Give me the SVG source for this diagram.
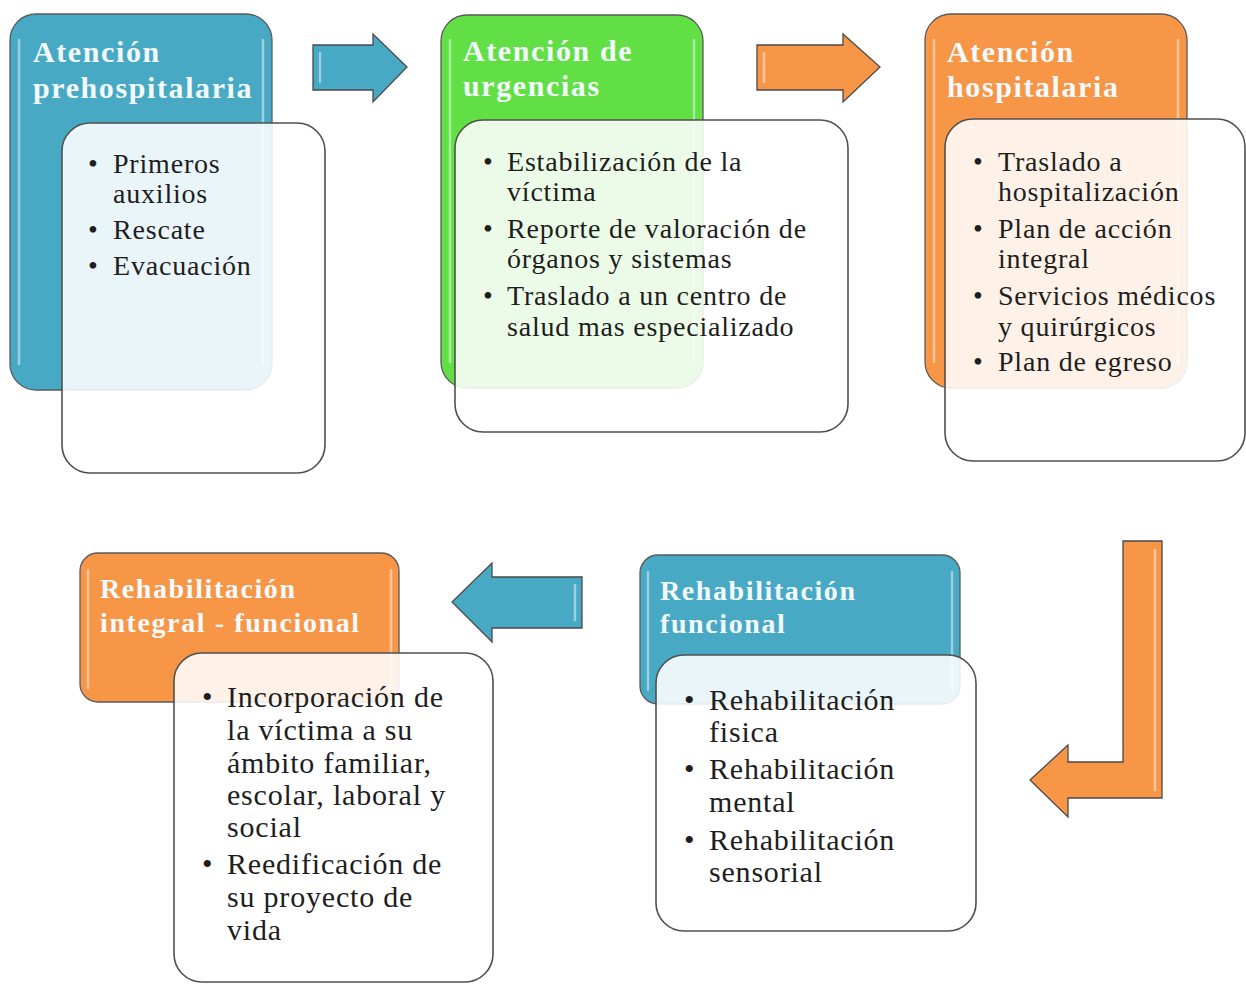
<svg xmlns="http://www.w3.org/2000/svg" width="1246" height="984" viewBox="0 0 1246 984">
<style>
.bg{fill:#ffffff}
.hdr{stroke:#5a5a5a;stroke-width:1.3}
.blue{fill:#48a9c5}
.green{fill:#62df45}
.orange{fill:#f79646}
.hl{fill:none;stroke:#ffffff;stroke-opacity:0.45;stroke-width:2.5;stroke-linecap:round}
.card{fill:#ffffff;fill-opacity:0.88;stroke:#505050;stroke-width:1.6}
.t1{font-family:"Liberation Serif","Times New Roman",serif;font-weight:bold;font-size:30px;letter-spacing:1.6px;fill:#f2fafc}
.t2{font-family:"Liberation Serif","Times New Roman",serif;font-weight:bold;font-size:28px;letter-spacing:1.6px;fill:#f2fafc}
.b1{font-family:"Liberation Serif","Times New Roman",serif;font-size:28px;letter-spacing:0.8px;fill:#1e1e1e}
.b2{font-family:"Liberation Serif","Times New Roman",serif;font-size:30px;letter-spacing:0.8px;fill:#1e1e1e}
.arr{stroke:#4a4a4a;stroke-width:1.3;stroke-linejoin:miter}
</style>
<rect class="bg" x="0" y="0" width="1246" height="984"/>

<g id="connectors">
  <polygon class="arr blue" points="313,45 373,45 373,34 407,67 373,102 373,90 313,90"/>
  <line class="hl" x1="320" y1="53" x2="320" y2="82"/>
  <polygon class="arr orange" points="757,45 843,45 843,34 880,67 843,102 843,90 757,90"/>
  <line class="hl" x1="764" y1="53" x2="764" y2="82"/>
  <polygon class="arr orange" points="1123,541 1162,541 1162,798 1068,798 1068,817 1030,780 1068,745 1068,762 1123,762"/>
  <line class="hl" x1="1155" y1="550" x2="1155" y2="790"/>
  <polygon class="arr blue" points="582,577 492,577 492,563 452,602 492,642 492,628 582,628"/>
  <line class="hl" x1="575" y1="585" x2="575" y2="620"/>
</g>

<g id="node-prehospitalaria">
  <rect class="hdr blue" x="10" y="14" width="262" height="376" rx="26"/>
  <line class="hl" x1="19" y1="40" x2="19" y2="364"/>
  <line class="hl" x1="263" y1="40" x2="263" y2="364"/>
  <text class="t1" x="33" y="62">Atención</text>
  <text class="t1" x="33" y="98">prehospitalaria</text>
  <rect class="card" x="62" y="123" width="263" height="350" rx="28"/>
  <g class="b1">
    <text x="88" y="173">•</text><text x="113" y="173">Primeros</text>
    <text x="113" y="203">auxilios</text>
    <text x="88" y="239">•</text><text x="113" y="239">Rescate</text>
    <text x="88" y="275">•</text><text x="113" y="275">Evacuación</text>
  </g>
</g>

<g id="node-urgencias">
  <rect class="hdr green" x="441" y="15" width="262" height="373" rx="26"/>
  <line class="hl" x1="450" y1="40" x2="450" y2="362"/>
  <line class="hl" x1="694" y1="40" x2="694" y2="362"/>
  <text class="t1" x="463" y="61">Atención de</text>
  <text class="t1" x="463" y="96">urgencias</text>
  <rect class="card" x="455" y="120" width="393" height="312" rx="28"/>
  <g class="b1">
    <text x="483" y="171">•</text><text x="507" y="171">Estabilización de la</text>
    <text x="507" y="201">víctima</text>
    <text x="483" y="238">•</text><text x="507" y="238">Reporte de valoración de</text>
    <text x="507" y="268">órganos y sistemas</text>
    <text x="483" y="305">•</text><text x="507" y="305">Traslado a un centro de</text>
    <text x="507" y="336">salud mas especializado</text>
  </g>
</g>

<g id="node-hospitalaria">
  <rect class="hdr orange" x="925" y="14" width="262" height="374" rx="26"/>
  <line class="hl" x1="934" y1="40" x2="934" y2="362"/>
  <line class="hl" x1="1178" y1="40" x2="1178" y2="362"/>
  <text class="t1" x="947" y="62">Atención</text>
  <text class="t1" x="947" y="97">hospitalaria</text>
  <rect class="card" x="945" y="119" width="300" height="342" rx="28"/>
  <g class="b1">
    <text x="973" y="171">•</text><text x="998" y="171">Traslado a</text>
    <text x="998" y="201">hospitalización</text>
    <text x="973" y="238">•</text><text x="998" y="238">Plan de acción</text>
    <text x="998" y="268">integral</text>
    <text x="973" y="305">•</text><text x="998" y="305">Servicios médicos</text>
    <text x="998" y="336">y quirúrgicos</text>
    <text x="973" y="371">•</text><text x="998" y="371">Plan de egreso</text>
  </g>
</g>

<g id="node-rehab-funcional">
  <rect class="hdr blue" x="640" y="555" width="320" height="149" rx="18"/>
  <line class="hl" x1="648" y1="572" x2="648" y2="690"/>
  <line class="hl" x1="952" y1="572" x2="952" y2="690"/>
  <text class="t2" x="660" y="600">Rehabilitación</text>
  <text class="t2" x="660" y="633">funcional</text>
  <rect class="card" x="656" y="655" width="320" height="276" rx="28"/>
  <g class="b2">
    <text x="684" y="710">•</text><text x="709" y="710">Rehabilitación</text>
    <text x="709" y="742">fisica</text>
    <text x="684" y="779">•</text><text x="709" y="779">Rehabilitación</text>
    <text x="709" y="812">mental</text>
    <text x="684" y="850">•</text><text x="709" y="850">Rehabilitación</text>
    <text x="709" y="882">sensorial</text>
  </g>
</g>

<g id="node-rehab-integral">
  <rect class="hdr orange" x="80" y="553" width="319" height="149" rx="18"/>
  <line class="hl" x1="88" y1="570" x2="88" y2="688"/>
  <line class="hl" x1="391" y1="570" x2="391" y2="688"/>
  <text class="t2" x="100" y="598">Rehabilitación</text>
  <text class="t2" x="100" y="632">integral - funcional</text>
  <rect class="card" x="174" y="653" width="319" height="329" rx="28"/>
  <g class="b2">
    <text x="202" y="707">•</text><text x="227" y="707">Incorporación de</text>
    <text x="227" y="740">la víctima a su</text>
    <text x="227" y="773">ámbito familiar,</text>
    <text x="227" y="805">escolar, laboral y</text>
    <text x="227" y="837">social</text>
    <text x="202" y="874">•</text><text x="227" y="874">Reedificación de</text>
    <text x="227" y="907">su proyecto de</text>
    <text x="227" y="940">vida</text>
  </g>
</g>
</svg>
